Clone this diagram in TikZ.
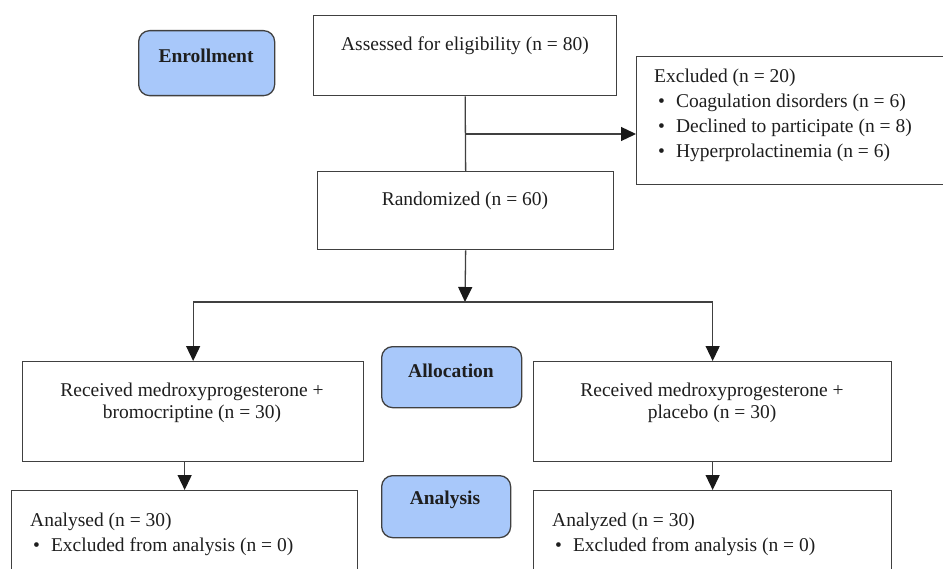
\documentclass[tikz,border=0pt]{standalone}
\usepackage{fontspec}
\setmainfont{Liberation Serif}
\newfontfamily\tnr{Liberation Serif}
\usetikzlibrary{arrows.meta}
\definecolor{lc}{RGB}{64,64,64}
\definecolor{hc}{RGB}{25,25,25}
\definecolor{bluefill}{RGB}{168,200,250}
\definecolor{tc}{RGB}{30,30,30}
\begin{document}
\begin{tikzpicture}[x=1bp,y=-1bp,
  box/.style={draw=lc, line width=1.3bp, fill=white, inner sep=0, anchor=north west},
  stage/.style={draw=lc, line width=1.3bp, fill=bluefill, rounded corners=11bp, inner sep=0, anchor=north west},
  lbl/.style={inner sep=0, text=tc, font=\tnr\fontsize{19.5bp}{22bp}\selectfont, align=center},
  lft/.style={inner sep=0, text=tc, font=\tnr\fontsize{19.5bp}{25bp}\selectfont, anchor=base west},
  arr/.style={draw=lc, line width=1.3bp, -{Triangle[length=15bp,width=14bp,color=hc]}},
  ln/.style={draw=lc, line width=1.3bp}]
\useasboundingbox (0,0) rectangle (943,569);
\clip (0,0) rectangle (943,569);
% boxes
\node[stage, minimum width=136bp, minimum height=65bp] (enroll) at (138,30) {};
\node[box, minimum width=303bp, minimum height=80bp] (assess) at (313,15) {};
\node[box, minimum width=320bp, minimum height=128bp] (excl) at (636,56) {};
\node[box, minimum width=296bp, minimum height=78bp] (rand) at (317,171) {};
\node[box, minimum width=341bp, minimum height=100bp] (trtL) at (22,361) {};
\node[box, minimum width=358bp, minimum height=100bp] (trtR) at (533,361) {};
\node[stage, minimum width=140bp, minimum height=61bp] (alloc) at (381,346) {};
\node[box, minimum width=346bp, minimum height=110bp] (anaL) at (11,490) {};
\node[box, minimum width=358bp, minimum height=110bp] (anaR) at (533,490) {};
\node[stage, minimum width=129bp, minimum height=62bp] (analysis) at (381,475) {};
% texts
\node[lbl] (tEnroll) at (206,56) {\bfseries Enrollment};
\node[lbl] (tAssess) at (465,46) {Assessed for eligibility (n = 80)};
\node[lft] (tExcl0) at (654,83) {Excluded (n = 20)};
\node[lft] (tExcl1) at (654,108) {\hspace*{4bp}\textbullet\hspace{11bp}Coagulation disorders (n = 6)};
\node[lft] (tExcl2) at (654,133) {\hspace*{4bp}\textbullet\hspace{11bp}Declined to participate (n = 8)};
\node[lft] (tExcl3) at (654,158) {\hspace*{4bp}\textbullet\hspace{11bp}Hyperprolactinemia (n = 6)};
\node[lbl] (tRand) at (465,201) {Randomized (n = 60)};
\node[lbl] (tTrtL) at (192,403) {Received medroxyprogesterone +\\bromocriptine (n = 30)};
\node[lbl] (tTrtR) at (712,403) {Received medroxyprogesterone +\\placebo (n = 30)};
\node[lbl] (tAlloc) at (451,371) {\bfseries Allocation};
\node[lbl] (tAnalysis) at (445,500) {\bfseries Analysis};
\node[lft] (tAnaL0) at (30,526) {Analysed (n = 30)};
\node[lft] (tAnaL1) at (30,551) {\hspace*{3bp}\textbullet\hspace{11bp}Excluded from analysis (n = 0)};
\node[lft] (tAnaR0) at (552,526) {Analyzed (n = 30)};
\node[lft] (tAnaR1) at (552,551) {\hspace*{3bp}\textbullet\hspace{11bp}Excluded from analysis (n = 0)};
% connectors
\coordinate (branch) at (465,134);
\coordinate (split) at (465,302);
\draw[ln] (assess.south) -- (rand.north);
\draw[arr] (branch) -- (branch -| excl.west);
\draw[arr] (rand.south) -- (split);
\draw[arr] (split) -| (trtL.north);
\draw[arr] (split) -| (trtR.north);
\draw[arr] (trtL.south -| anaL.north) -- (anaL.north);
\draw[arr] (trtR.south) -- (anaR.north);
\end{tikzpicture}
\end{document}
